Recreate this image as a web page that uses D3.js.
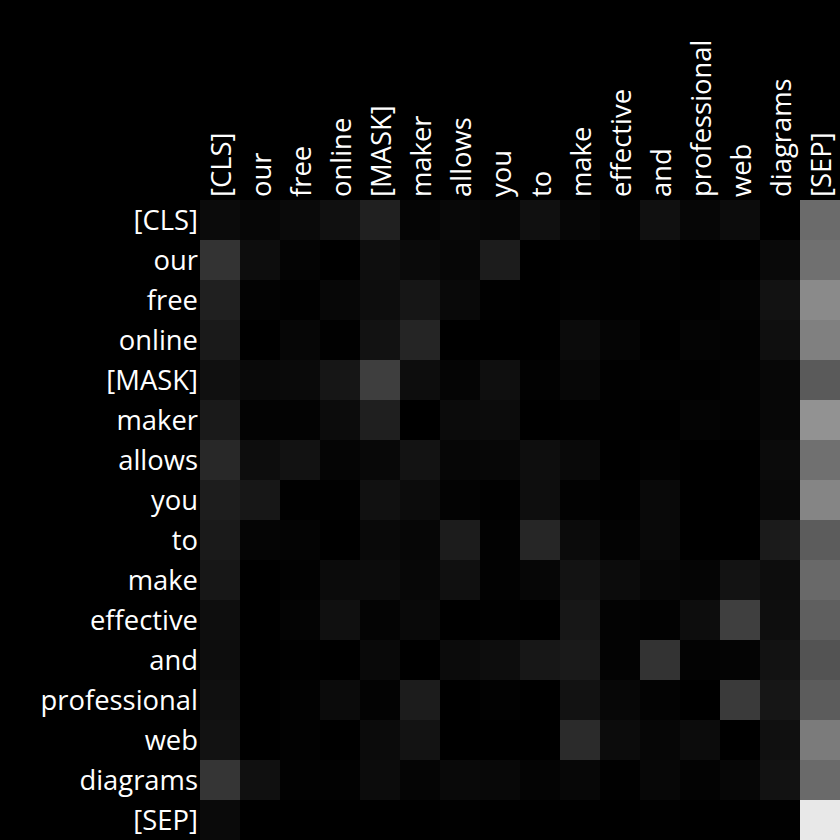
<!DOCTYPE html>
<html><head><meta charset="utf-8">
<script src="https://cdn.jsdelivr.net/npm/d3@7"></script>
<style>html,body{margin:0;padding:0;background:#000;}</style>
</head><body>
<svg id="chart" width="840" height="840"></svg>
<script>
const tokens = ["[CLS]","our","free","online","[MASK]","maker","allows","you","to","make","effective","and","professional","web","diagrams","[SEP]"];
// attention weights (rows = query token, cols = key token), read as gray level / 255
const row0  = [11,6,10,16,32,5,8,6,16,6,3,16,6,12,0,107];
const row1  = [51,13,4,0,14,10,6,28,0,1,1,2,0,0,9,112];
const row2  = [32,3,1,7,13,22,9,1,0,2,1,1,1,4,18,138];
const row3  = [26,0,6,1,18,37,0,0,0,11,5,0,4,2,15,128];
const row4  = [16,9,10,22,62,13,5,15,2,7,1,2,1,3,7,90];
const row5  = [26,3,3,12,31,0,11,12,0,1,1,0,4,2,7,146];
const row6  = [40,13,18,5,8,19,6,7,14,9,0,2,0,0,11,112];
const row7  = [29,23,1,1,17,12,3,1,14,2,1,9,0,0,9,133];
const row8  = [26,5,4,0,9,6,28,2,38,11,3,9,0,0,27,92];
const row9  = [23,0,2,11,12,7,16,2,6,19,12,6,5,19,13,105];
const row10 = [14,0,4,16,4,9,0,1,0,23,3,2,13,63,14,95];
const row11 = [13,0,1,0,9,0,11,13,23,26,3,51,3,4,18,83];
const row12 = [16,0,2,11,3,28,0,2,0,18,7,3,0,58,22,92];
const row13 = [18,0,2,0,11,19,0,0,0,43,12,6,12,0,16,123];
const row14 = [53,16,2,2,12,5,9,8,4,7,1,7,3,6,18,106];
const row15 = [10,0,0,0,0,0,1,0,0,0,0,1,0,0,1,232];
const weights = [row0,row1,row2,row3,row4,row5,row6,row7,row8,row9,row10,row11,row12,row13,row14,row15]
  .map(r => r.map(v => v / 255));

const svg = d3.select("#chart");
const mLeft = 200, mTop = 200, size = 640;
const x = d3.scaleBand().domain(d3.range(tokens.length)).range([mLeft, mLeft + size]);
const y = d3.scaleBand().domain(d3.range(tokens.length)).range([mTop, mTop + size]);
const color = d3.scaleLinear().domain([0, 1]).range(["#000000", "#ffffff"]);

svg.append("rect").attr("width", 840).attr("height", 840).attr("fill", "#000");

const cells = [];
weights.forEach((r, i) => r.forEach((v, j) => cells.push({i, j, v})));
svg.append("g").selectAll("rect").data(cells).join("rect")
  .attr("x", d => x(d.j)).attr("y", d => y(d.i))
  .attr("width", x.bandwidth() + 0.5).attr("height", y.bandwidth() + 0.5)
  .attr("fill", d => color(d.v));

const font = "Open Sans";
const fs = 27.4;
svg.append("g").selectAll("text").data(tokens).join("text")
  .attr("x", mLeft - 2).attr("y", (d, i) => y(i) + y.bandwidth() / 2 - 1)
  .attr("text-anchor", "end").attr("dominant-baseline", "central")
  .attr("fill", "#fff").attr("font-family", font).attr("font-size", fs)
  .text(d => d);

svg.append("g").selectAll("text").data(tokens).join("text")
  .attr("transform", (d, i) => `translate(${x(i) + x.bandwidth() / 2},${mTop - 3}) rotate(-90)`)
  .attr("text-anchor", "start").attr("dominant-baseline", "central")
  .attr("fill", "#fff").attr("font-family", font).attr("font-size", fs)
  .text(d => d);
</script>
</body></html>
